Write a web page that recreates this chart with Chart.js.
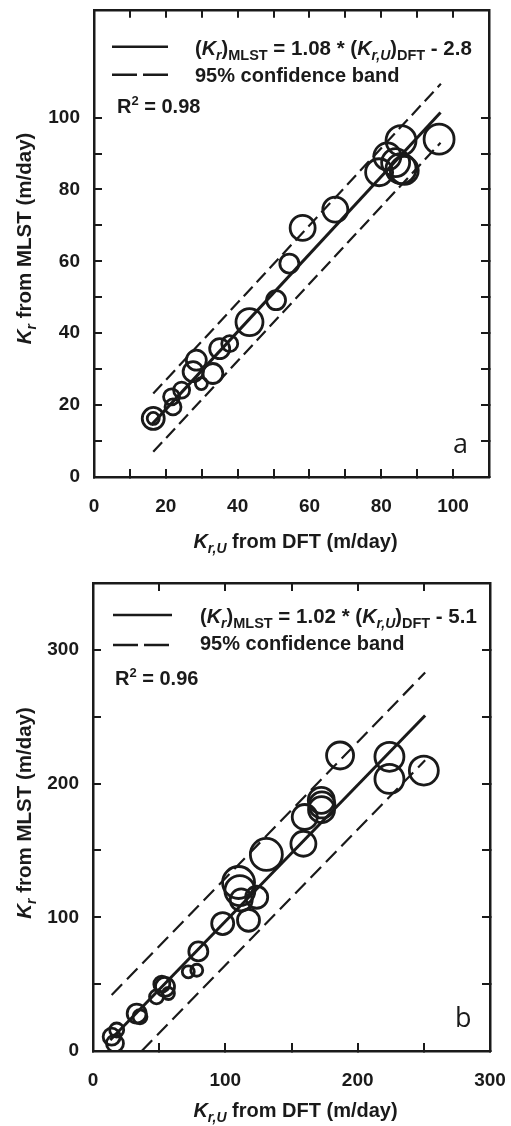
<!DOCTYPE html>
<html>
<head>
<meta charset="utf-8">
<script src="https://cdn.jsdelivr.net/npm/chart.js@4.4.0/dist/chart.umd.min.js"></script>
<style>
html, body { margin: 0; padding: 0; background: #fff; }
.box { position: relative; width: 511px; height: 563px; }
</style>
</head>
<body>
<div class="box"><canvas id="chartA"></canvas></div>
<div class="box"><canvas id="chartB"></canvas></div>
<script>
// ---- panel a ----
const aX = [16.5, 16.5, 22, 21.6, 24.4, 29.9, 27.6, 33.1, 28.5, 35, 37.8, 43.3, 50.7, 54.4, 58.1, 67.2, 79.4, 81.7, 84, 85.5, 86.4, 85.5, 96.1];
const aY = [16.3, 16.3, 19.5, 22.3, 24.2, 26, 29.3, 28.8, 32.5, 35.7, 37.1, 43.1, 49.2, 59.4, 69.3, 74.4, 84.8, 89.2, 87.5, 85.8, 85.3, 93.6, 94];
const aSize = [11, 6, 8, 8, 8, 6, 10, 10, 10, 10, 8, 13.5, 9.5, 9.5, 12.5, 12.5, 13.5, 13.5, 14, 15, 14, 15, 15];
const aFitX = [16, 96.5];
const aFitY = [14.5, 101.4];
const aUpperX = [16.5, 96.6];
const aUpperY = [23.2, 109.4];
const aLowerX = [16.5, 96.5];
const aLowerY = [7, 93];
const aTickMarks = [0, 10, 20, 30, 40, 50, 60, 70, 80, 90, 100];
const aTickLabels = [0, 20, 40, 60, 80, 100];

// ---- panel b ----
const bX = [16.6, 14.1, 17.9, 33, 35.5, 48, 54.4, 52, 57, 72, 78.4, 79.6, 98, 117.5, 112, 123.7, 111, 110, 131, 159, 160, 172.7, 173, 172.5, 186.7, 224, 224, 250];
const bY = [5.7, 10.7, 15.7, 28, 25.6, 40.5, 48, 50, 43, 59.2, 60.4, 74.5, 95.3, 97.8, 113, 115, 120, 126, 147, 155, 175, 180.5, 184, 187.5, 221, 220, 203.5, 209.7];
const bSize = [8.5, 8.5, 7, 9.5, 7, 7, 9.5, 8, 6, 6, 6, 9.5, 11, 11, 11, 11, 15, 16, 16, 12.5, 12.5, 13, 13, 13, 13.5, 14.5, 14.5, 14.5];
const bFitX = [13, 251];
const bFitY = [8.2, 250.9];
const bUpperX = [14.1, 251];
const bUpperY = [41.8, 283];
const bLowerX = [36.8, 251];
const bLowerY = [0, 217.5];
const bTickMarks = [0, 50, 100, 150, 200, 250, 300];
const bTickLabels = [0, 100, 200, 300];

const INK = '#1a1a1a';
const FAMILY = "'Liberation Sans', Arial, sans-serif";
Chart.defaults.font.family = FAMILY;
Chart.defaults.color = INK;

function pts(xs, ys, rs) {
    return xs.map((x, i) => rs ? { x: x, y: ys[i], r: rs[i] } : { x: x, y: ys[i] });
}

// text pieces: [text, size, italic, dy]
function fontOf(p) {
    return (p[2] ? 'italic ' : '') + 'bold ' + p[1] + 'px ' + FAMILY;
}
function drawRich(ctx, x, y, parts, center) {
    let w = 0;
    parts.forEach(p => { ctx.font = fontOf(p); w += ctx.measureText(p[0]).width; });
    let cx = center ? x - w / 2 : x;
    parts.forEach(p => {
        ctx.font = fontOf(p);
        ctx.fillText(p[0], cx, y + (p[3] || 0));
        cx += ctx.measureText(p[0]).width;
    });
}

const yTitle = [['K', 20.5, true], ['r', 14, true, 5], [' from MLST (m/day)', 20.5]];
const xTitle = [['K', 20, true], ['r,U', 14, true, 5], [' from DFT (m/day)', 20]];

function legendText(slope, icpt) {
    return [['(', 20], ['K', 20, true], ['r', 14, true, 5], [')', 20], ['MLST', 14.5, false, 5],
        [' = ' + slope + ' * (', 20.5], ['K', 20, true], ['r,U', 14, true, 5], [')', 20],
        ['DFT', 14.5, false, 5], [' - ' + icpt, 20.5]];
}

function textPlugin(t) {
    return {
        id: 'panelText',
        afterDraw(chart) {
            const ctx = chart.ctx;
            const a = chart.chartArea;
            ctx.save();
            ctx.fillStyle = INK;
            ctx.strokeStyle = INK;
            ctx.textBaseline = 'alphabetic';
            ctx.textAlign = 'left';
            // legend lines
            ctx.lineWidth = 2.5;
            ctx.beginPath();
            ctx.moveTo(a.left + t.lx0, a.top + t.l1y);
            ctx.lineTo(a.left + t.lx1, a.top + t.l1y);
            ctx.stroke();
            ctx.setLineDash([25, 6]);
            ctx.beginPath();
            ctx.moveTo(a.left + t.lx0, a.top + t.l2y);
            ctx.lineTo(a.left + t.lx1, a.top + t.l2y);
            ctx.stroke();
            ctx.setLineDash([]);
            drawRich(ctx, a.left + t.tx, a.top + t.t1y, legendText(t.slope, t.icpt));
            drawRich(ctx, a.left + t.tx, a.top + t.t2y, [['95% confidence band', 20]]);
            drawRich(ctx, a.left + t.rx, a.top + t.ry, [['R', 20], ['2', 13, false, -8], [' = ' + t.r2, 20]]);
            // panel letter
            ctx.font = '27px "Open Sans", ' + FAMILY;
            ctx.fillText(t.letter, a.left + t.px, a.bottom - 24);
            // axis titles
            drawRich(ctx, (a.left + a.right) / 2 + 4, a.bottom + t.xty, xTitle, true);
            ctx.translate(24, (a.top + a.bottom) / 2 + t.ytShift);
            ctx.rotate(-Math.PI / 2);
            drawRich(ctx, 0, 7, yTitle, true);
            ctx.restore();
        }
    };
}

function axis(pos, min, max, marks, labels, size) {
    const horiz = pos === 'top' || pos === 'bottom';
    const main = pos === 'bottom' || pos === 'left';
    return {
        type: 'linear',
        position: pos,
        min: min,
        max: max,
        afterBuildTicks: s => { s.ticks = marks.map(v => ({ value: v })); },
        afterFit: s => {
            if (horiz) s.height = size; else s.width = size;
            s.paddingTop = 0; s.paddingBottom = 0; s.paddingLeft = 0; s.paddingRight = 0;
        },
        grid: { drawOnChartArea: false, tickLength: -8, lineWidth: 2, color: INK },
        border: { display: true, width: 2.5, color: INK },
        ticks: {
            autoSkip: false,
            maxRotation: 0,
            padding: horiz ? 26 : 22,
            color: INK,
            font: { size: 19, weight: 'bold' },
            callback: v => (main && labels.includes(v)) ? String(v) : ''
        }
    };
}

function makeChart(id, d) {
    return new Chart(document.getElementById(id), {
        type: 'scatter',
        data: {
            datasets: [
                { type: 'bubble', data: pts(d.x, d.y, d.size), backgroundColor: 'rgba(0,0,0,0)', borderColor: INK, borderWidth: 2.8 },
                { data: pts(d.fitX, d.fitY), showLine: true, pointRadius: 0, borderColor: INK, borderWidth: 3 },
                { data: pts(d.upX, d.upY), showLine: true, pointRadius: 0, borderColor: INK, borderWidth: 2.2, borderDash: d.dash },
                { data: pts(d.loX, d.loY), showLine: true, pointRadius: 0, borderColor: INK, borderWidth: 2.2, borderDash: d.dash }
            ]
        },
        options: {
            responsive: true,
            maintainAspectRatio: false,
            animation: false,
            layout: { padding: d.pad },
            plugins: { legend: { display: false }, tooltip: { enabled: false } },
            scales: {
                x: axis('bottom', 0, d.xMax, d.marksX, d.labelsX, d.xAxisH),
                x2: axis('top', 0, d.xMax, d.marksX, d.labelsX, 0),
                y: axis('left', 0, d.yMax, d.marksY, d.labelsY, d.yAxisW),
                y2: axis('right', 0, d.yMax, d.marksY, d.labelsY, 0)
            }
        },
        plugins: [textPlugin(d.text)]
    });
}

// keep the plot box top where the picture has it
function pinTop(chart, wantTop) {
    const dt = Math.round(chart.chartArea.top - wantTop);
    if (dt > 0) {
        const box = chart.canvas.parentNode;
        box.style.marginTop = (-dt) + 'px';
        box.style.height = (563 + dt) + 'px';
        chart.resize();
    }
}

const chartA = makeChart('chartA', {
    x: aX, y: aY, size: aSize,
    fitX: aFitX, fitY: aFitY, upX: aUpperX, upY: aUpperY, loX: aLowerX, loY: aLowerY,
    xMax: 110, yMax: 130, dash: [13, 6],
    marksX: aTickMarks, labelsX: aTickLabels, marksY: aTickMarks, labelsY: aTickLabels,
    pad: { top: 10, right: 22, left: 0, bottom: 0 }, xAxisH: 86, yAxisW: 94,
    text: { lx0: 18, lx1: 74, l1y: 37, l2y: 65, tx: 101, t1y: 45, t2y: 72, rx: 23, ry: 103,
        slope: '1.08', icpt: '2.8', r2: '0.98', letter: 'a', px: 359, xty: 71, ytShift: -5 }
});

const chartB = makeChart('chartB', {
    x: bX, y: bY, size: bSize,
    fitX: bFitX, fitY: bFitY, upX: bUpperX, upY: bUpperY, loX: bLowerX, loY: bLowerY,
    xMax: 300, yMax: 350, dash: [15, 7],
    marksX: bTickMarks, labelsX: bTickLabels, marksY: bTickMarks, labelsY: bTickLabels,
    pad: { top: 20, right: 21, left: 0, bottom: 0 }, xAxisH: 75, yAxisW: 93,
    text: { lx0: 20, lx1: 79, l1y: 32, l2y: 62, tx: 107, t1y: 40, t2y: 67, rx: 22, ry: 102,
        slope: '1.02', icpt: '5.1', r2: '0.96', letter: 'b', px: 362, xty: 66, ytShift: -4 }
});

pinTop(chartA, 10);
pinTop(chartB, 20);
</script>
</body>
</html>
